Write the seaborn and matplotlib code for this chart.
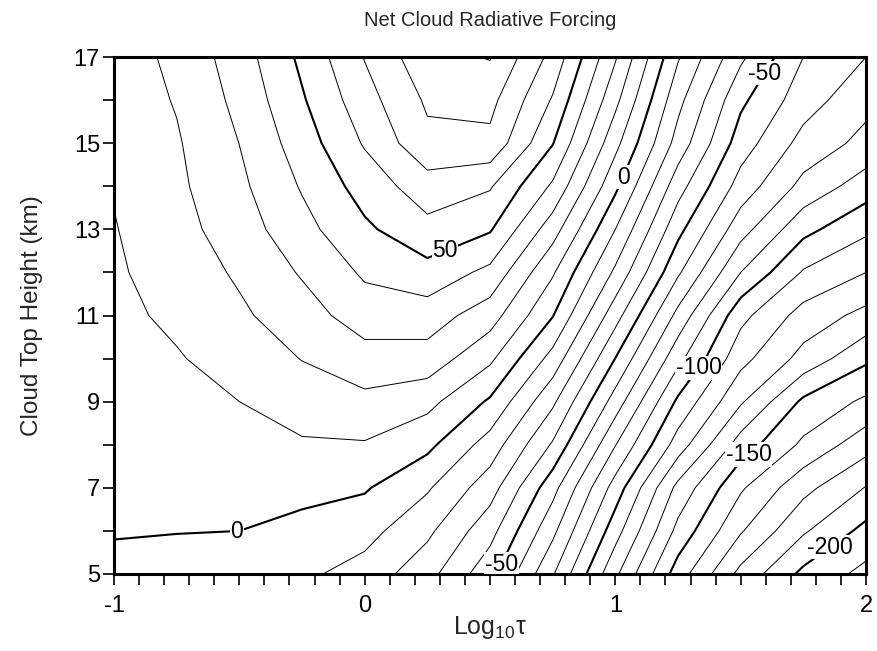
import numpy as np
import matplotlib
matplotlib.use("Agg")
import matplotlib.pyplot as plt
import seaborn as sns

# grid: columns = log10(tau), rows = cloud top height
log_tau = [-1.0, -0.75, -0.5, -0.25, 0.0, 0.25, 0.5, 0.75, 1.0, 1.25, 1.5, 1.75, 2.0]
height_km = [5, 6, 7, 8, 9, 10, 11, 12, 13, 14, 15, 16, 17]

ncrf_5km = [-1.2, -4, -6, -8, -14, -26.4, -46.5, -79, -118, -155, -183, -202.5, -213]
ncrf_6km = [0.3, 0.3, 0, -2.7, -6.4, -17.8, -36.4, -67.5, -105.9, -143, -169, -188.7, -203]
ncrf_7km = [2.0, 2.5, 3.1, 2.7, 1, -8.8, -25.5, -56.5, -94.4, -133, -158.6, -177, -190.5]
ncrf_8km = [3, 4.7, 6.6, 8.8, 9.2, 2.5, -14.3, -41.2, -79.6, -114.7, -144.7, -162, -176]
ncrf_9km = [4.2, 6.9, 10, 15, 17.5, 13, -1.4, -28, -64.6, -102, -128.7, -152, -162]
ncrf_10km = [6, 9.2, 14.3, 20.3, 26, 26, 12, -13.6, -50.2, -87, -116.7, -133.4, -148]
ncrf_11km = [7.5, 12, 18.3, 25.6, 35, 35, 24.6, 0.5, -36, -73, -107, -124, -133]
ncrf_12km = [8.6, 14.5, 21.4, 31, 41.5, 46.5, 37.4, 11.2, -22, -58.5, -90, -111, -120]
ncrf_13km = [9.5, 16.5, 25.1, 36.7, 48.2, 57, 51, 24.5, -10, -47, -76, -97, -108]
ncrf_14km = [10.6, 18, 27.8, 40.9, 54.2, 65.5, 61, 38.4, 2.3, -35.9, -64.2, -83, -95]
ncrf_15km = [12.5, 19, 30.1, 45, 61, 77.5, 77.5, 50.5, 13, -24, -55, -73.5, -83]
ncrf_16km = [14, 20.7, 32.7, 48.9, 66, 81.5, 83, 59, 22.7, -17, -47.9, -65.4, -77]
ncrf_17km = [15, 22.3, 35.2, 52.2, 70.5, 87, 90.6, 66.8, 31, -9, -38, -60, -70]

levels = np.arange(-220, 100, 10)
label_levels = [-200, -150, -100, -50, 0, 50]

sns.set_style("ticks")
plt.rcParams["font.family"] = ["Liberation Sans", "DejaVu Sans"]
plt.rcParams["mathtext.fontset"] = "custom"
plt.rcParams["mathtext.rm"] = "Liberation Sans"
plt.rcParams["axes.unicode_minus"] = False
plt.rcParams["contour.negative_linestyle"] = "solid"

z = np.array([ncrf_5km, ncrf_6km, ncrf_7km, ncrf_8km, ncrf_9km, ncrf_10km,
              ncrf_11km, ncrf_12km, ncrf_13km, ncrf_14km, ncrf_15km,
              ncrf_16km, ncrf_17km])
X, Y = np.meshgrid(log_tau, height_km)

fig = plt.figure(figsize=(8.77, 6.51), dpi=100)
ax = fig.add_axes([0.130, 0.1183, 0.8575, 0.7941])

thin = [l for l in levels if l % 50 != 0]
thick = [l for l in levels if l % 50 == 0]
ax.contour(X, Y, z, levels=thin, colors="black", linewidths=0.7)
cs = ax.contour(X, Y, z, levels=thick, colors="black", linewidths=1.5)

# label spots (data coords)
spots = [(0.33, 12.36), (1.04, 14.19), (1.59, 16.65), (1.33, 9.8),
         (1.51, 7.92), (1.85, 5.67), (-0.51, 5.93), (0.55, 5.21)]
texts = ax.clabel(cs, levels=label_levels, manual=spots, inline=False,
                  fmt="%d", fontsize=16.5)
for t in texts:
    t.set_rotation(0)
    t.set_bbox(dict(facecolor="white", edgecolor="none", pad=0.5))

ax.set_xlim(-1, 2)
ax.set_ylim(5, 17)
ax.set_xticks([-1, 0, 1, 2])
ax.set_xticks(np.arange(-1, 2.01, 0.1), minor=True)
ax.set_yticks(np.arange(5, 18, 2))
ax.set_yticks(np.arange(5, 18, 1), minor=True)
ax.tick_params(which="both", direction="out", length=8, width=1.2,
               color="black", labelsize=17, labelcolor="black")
ax.tick_params(axis="x", pad=7)
ax.tick_params(axis="y", pad=2)
for s in ax.spines.values():
    s.set_linewidth(2.2)
    s.set_color("black")

ax.set_title("Net Cloud Radiative Forcing", fontsize=14.5, pad=22)
ax.set_xlabel("Log$_{10}$τ", fontsize=18, labelpad=-2)
ax.set_ylabel("Cloud Top Height (km)", fontsize=17.5, labelpad=22)

fig.savefig("out.png", dpi=100)
